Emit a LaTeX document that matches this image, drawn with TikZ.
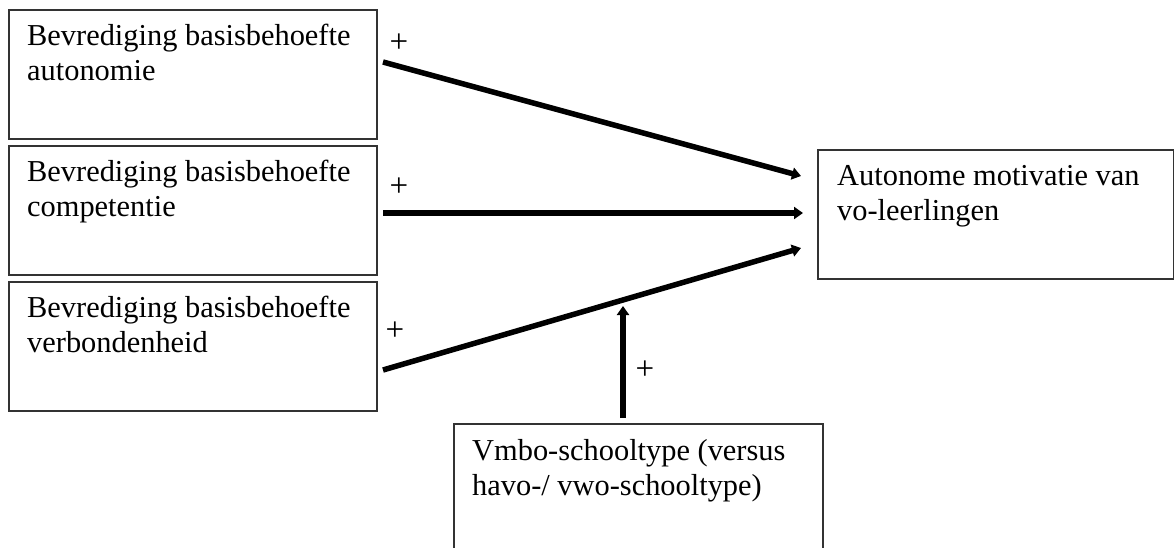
\documentclass[tikz,border=0pt]{standalone}
\usepackage{fontspec}
\setmainfont{Liberation Serif}
\usetikzlibrary{arrows.meta}
\begin{document}
\begin{tikzpicture}[x=1pt,y=-1pt,
  box/.style={draw=black!80,line width=1.5pt,inner sep=0pt,anchor=north west},
  txt/.style={anchor=base west,inner sep=0pt,align=left,font=\fontsize{30.4}{35}\selectfont},
  plus/.style={inner sep=0pt,font=\fontsize{33}{36}\selectfont},
  conn/.style={line width=5.5pt,-{Triangle[length=9pt,width=12pt]}}]
\useasboundingbox (0,0) rectangle (1174,547);
\begin{scope}
\clip (0,0) rectangle (1174,547);
\node[box,minimum width=368pt,minimum height=129pt] (b1) at (8,9) {};
\node[box,minimum width=368pt,minimum height=129pt] (b2) at (8,145) {};
\node[box,minimum width=368pt,minimum height=129pt] (b3) at (8,281) {};
\node[box,minimum width=356pt,minimum height=129pt] (out) at (817,149) {};
\node[box,minimum width=369pt,minimum height=140pt] (mod) at (453,423) {};
\end{scope}
\node[txt] (t1) at (27,80) {Bevrediging basisbehoefte\\autonomie};
\node[txt] (t2) at (27,216) {Bevrediging basisbehoefte\\competentie};
\node[txt] (t3) at (27,352) {Bevrediging basisbehoefte\\verbondenheid};
\node[txt] (to) at (837,220) {Autonome motivatie van\\vo-leerlingen};
\node[txt] (tm) at (472,495) {Vmbo-schooltype (versus\\havo-/ vwo-schooltype)};
\coordinate (s1) at (383,62);
\coordinate (e1) at (801,176);
\coordinate (s2) at (383,213);
\coordinate (e2) at (803,213);
\coordinate (s3) at (383,370);
\coordinate (e3) at (801,248);
\coordinate (sm) at (623,418);
\coordinate (em) at (623,306);
\draw[conn] (s1) -- (e1);
\draw[conn] (s2) -- (e2);
\draw[conn] (s3) -- (e3);
\draw[conn] (sm) -- (em);
\node[plus] (p1) at (399,43) {+};
\node[plus] (p2) at (399,187) {+};
\node[plus] (p3) at (395,331) {+};
\node[plus] (pm) at (645,370) {+};
\end{tikzpicture}
\end{document}
